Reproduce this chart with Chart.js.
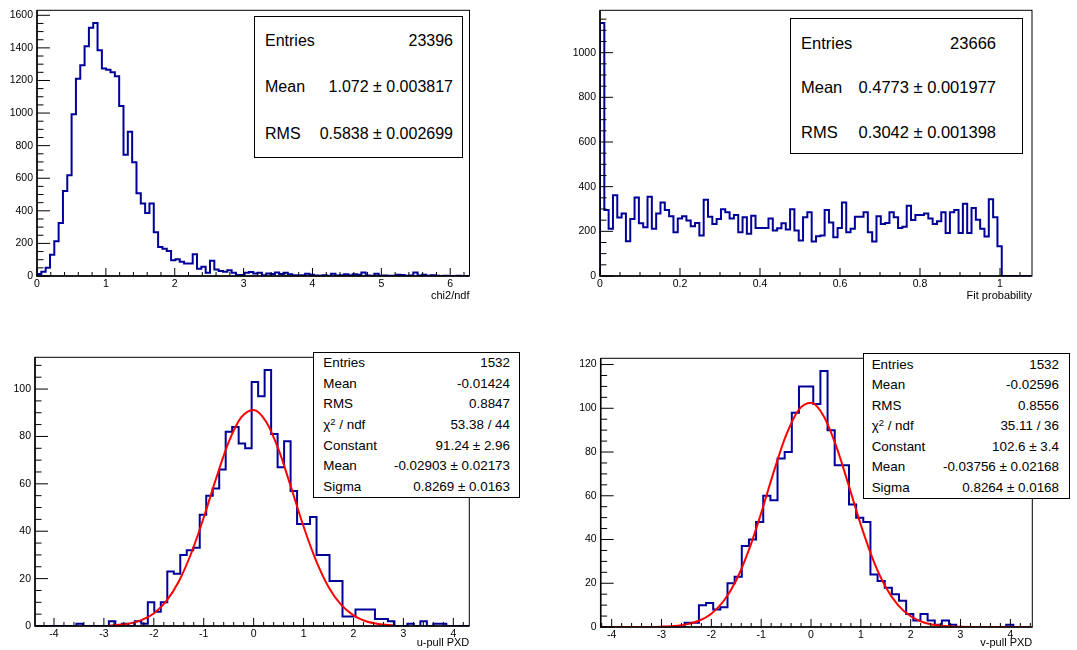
<!DOCTYPE html>
<html>
<head>
<meta charset="UTF-8">
<title>Track fit quality</title>
<script src="https://cdn.jsdelivr.net/npm/chart.js"></script>
<style>
  body { margin: 0; background: #fff; font-family: "Liberation Sans", Arial, sans-serif; }
  #page { position: relative; width: 1077px; height: 650px; overflow: hidden; }
  #page canvas { position: absolute; }
  .stats { position: absolute; box-sizing: border-box; border: 1px solid #000; background: #fff; color: #000; }
  .stats div { display: flex; justify-content: space-between; white-space: nowrap; }
  .stats sup { font-size: 70%; line-height: 0; vertical-align: 0.45em; }
</style>
</head>
<body>
<div id="page">
  <canvas id="c1" width="538" height="325" style="left:0;top:0"></canvas>
  <canvas id="c2" width="539" height="325" style="left:538px;top:0"></canvas>
  <canvas id="c3" width="538" height="325" style="left:0;top:325px"></canvas>
  <canvas id="c4" width="539" height="325" style="left:538px;top:325px"></canvas>
</div>
<script>
// ---- data ----
// chi2/ndf : 100 bins on [0, 6.28]
const chi2Range = [0, 6.28];
const chi2Counts = [
  12, 26, 50, 130, 214, 325, 522, 619, 993, 1210,
  1294, 1410, 1523, 1553, 1385, 1274, 1266, 1250, 1226, 1044,
  744, 886, 698, 508, 445, 386, 445, 269, 178, 168,
  154, 97, 103, 87, 77, 77, 134, 45, 57, 20,
  93, 40, 30, 26, 36, 20, 6, 6, 20,
  25, 15, 20, 5, 15, 12, 22, 12, 20, 10,
  5, 3, 5, 14, 8, 3, 2, 4, 2, 14,
  3, 5, 10, 4, 10, 8, 22, 3, 2, 14,
  2, 3, 1, 2, 8, 6, 2, 3, 22, 3,
  8, 2, 5, 1, 0, 2, 0, 0, 1, 0, 0
];
const chi2XTicks = [0, 1, 2, 3, 4, 5, 6];
const chi2YTicks = [0, 200, 400, 600, 800, 1000, 1200, 1400, 1600];

// Fit probability : 100 bins on [0, 1.08]
const probRange = [0, 1.08];
const probCounts = [
  1133,
  295, 211, 361, 262, 280, 156, 255, 351, 236, 218,
  355, 211, 280, 329, 295, 267, 196, 258, 267, 248,
  223, 237, 181, 341, 265, 233, 255, 299, 285, 258,
  273, 196,
  263, 189, 270, 215, 215, 215, 258, 204, 214, 236,
  208, 299, 204, 159, 263, 285, 155, 178, 181, 296,
  240, 174, 215, 329, 196, 211, 265, 265, 285, 196,
  155, 267, 233, 237, 285, 263, 215, 221, 314, 251,
  273, 273, 280, 258, 233, 245, 285, 192, 285, 295,
  192, 324, 192, 304, 252, 211, 177, 344, 263, 133,
  0, 0, 0, 0, 0, 0, 0
];
const probXTicks = [0, 0.2, 0.4, 0.6, 0.8, 1];
const probYTicks = [0, 200, 400, 600, 800, 1000];

// u-pull PXD : bins of 0.13 starting at -4.46, axis [-4.38, 4.32]
const uPullAxis = [-4.38, 4.32];
const uPullBins = { low: -4.46, width: 0.13 };
const uPullCounts = [
  0, 0, 0, 0, 0, 0, 0, 1, 0, 0, 0, 0, 2, 0, 1, 0, 2, 1,
  10, 6, 10, 23, 22, 30, 32, 33, 47, 55, 58, 66, 82, 84, 77, 75,
  103, 97, 108, 81, 67, 78, 57, 43, 43, 46, 30, 30, 19, 19, 4, 4,
  7, 7, 7, 3, 3, 2, 0, 0, 1, 0, 2, 0, 1, 1,
  0, 0, 0, 0
];
const uFitX = [-2.9, -2.75, -2.5, -2.25, -2, -1.75, -1.5, -1.25, -1, -0.75, -0.5, -0.25, 0,
               0.25, 0.5, 0.75, 1, 1.25, 1.5, 1.75, 2, 2.25, 2.5, 2.8];
const uFitY = [0.2, 0.4, 1.0, 2.5, 5.3, 10.5, 18.8, 30.7, 45.8, 62.4, 77.6, 88.0, 91.2,
               86.2, 74.4, 58.5, 42.0, 27.6, 16.5, 9.0, 4.5, 2.0, 0.85, 0.26];
const uPullYTicks = [0, 20, 40, 60, 80, 100];

// v-pull PXD : bins of 0.1434 starting at -4.257, axis [-4.22, 4.44]
const vPullAxis = [-4.22, 4.44];
const vPullBins = { low: -4.257, width: 0.1434 };
const vPullCounts = [
  0, 0, 0, 0, 0, 0, 0, 0, 0, 0, 0, 0, 2, 2,
  10, 11, 8, 9, 20, 23, 37, 40, 48, 60, 58, 77, 80, 98,
  110, 110, 102, 117, 90, 74, 74, 56, 50, 48, 24, 21, 18, 15, 12, 6,
  3, 6, 3, 1, 3, 1,
  0, 0, 0, 0, 0, 0, 0, 1, 0, 0, 0
];
const vFitX = [-4.22, -3.5, -3, -2.75, -2.5, -2.25, -2, -1.75, -1.5, -1.25, -1, -0.75, -0.5, -0.25, 0,
               0.25, 0.5, 0.75, 1, 1.25, 1.5, 1.75, 2, 2.25, 2.5, 2.75, 3, 3.5, 4.44];
const vFitY = [0, 0.01, 0.17, 0.45, 1.2, 2.85, 6.1, 12.0, 21.4, 35.0, 52.1, 70.8, 87.7, 99.2, 102.5,
               96.6, 83.0, 65.2, 46.7, 30.5, 18.2, 9.9, 4.9, 2.2, 0.9, 0.33, 0.12, 0.01, 0];
const pullXTicks = [-4, -3, -2, -1, 0, 1, 2, 3, 4];
const vPullYTicks = [0, 20, 40, 60, 80, 100, 120];

// stat boxes
const chi2Stats = [['Entries', '23396'], ['Mean', '1.072 ± 0.003817'], ['RMS', '0.5838 ± 0.002699']];
const probStats = [['Entries', '23666'], ['Mean', '0.4773 ± 0.001977'], ['RMS', '0.3042 ± 0.001398']];
const uPullStats = [['Entries', '1532'], ['Mean', '-0.01424'], ['RMS', '0.8847'],
  ['χ<sup>2</sup> / ndf', '53.38 / 44'], ['Constant', '91.24 ± 2.96'],
  ['Mean', '-0.02903 ± 0.02173'], ['Sigma', '0.8269 ± 0.0163']];
const vPullStats = [['Entries', '1532'], ['Mean', '-0.02596'], ['RMS', '0.8556'],
  ['χ<sup>2</sup> / ndf', '35.11 / 36'], ['Constant', '102.6 ± 3.4'],
  ['Mean', '-0.03756 ± 0.02168'], ['Sigma', '0.8264 ± 0.0168']];

// ---- drawing ----
Chart.defaults.font.family = '"Liberation Sans", Arial, sans-serif';
Chart.defaults.color = '#000';
Chart.defaults.animation = false;

const HIST_BLUE = '#000099';

function histPoints(low, width, counts) {
  const n = counts.length;
  const pts = [{ x: low, y: 0 }];
  counts.forEach((c, i) => pts.push({ x: low + i * width, y: c }));
  pts.push({ x: low + n * width, y: counts[n - 1] });
  pts.push({ x: low + n * width, y: 0 });
  return pts;
}

// ROOT style frame with ticks pointing inwards
const rootAxes = {
  id: 'rootAxes',
  beforeDatasetsDraw(chart) {
    const { ctx, chartArea: a } = chart;
    ctx.save();
    ctx.strokeStyle = '#000';
    ctx.lineWidth = 1;
    ctx.strokeRect(a.left, a.top, a.right - a.left, a.bottom - a.top);
    ctx.restore();
  },
  afterDatasetsDraw(chart, args, o) {
    const { ctx, chartArea: a, scales: { x, y } } = chart;
    const w = a.right - a.left, h = a.bottom - a.top;
    const each = (min, max, minor, major, fn) => {
      for (let k = Math.ceil(min / minor - 1e-6); k * minor <= max + 1e-6; k++) {
        const v = k * minor;
        fn(v, Math.abs(v / major - Math.round(v / major)) < 1e-6);
      }
    };
    ctx.save();
    ctx.strokeStyle = '#000';
    ctx.lineWidth = 1;
    ctx.beginPath();
    each(x.min, x.max, o.xMinor, o.xMajor, (v, m) => {
      const px = x.getPixelForValue(v);
      ctx.moveTo(px, a.bottom);
      ctx.lineTo(px, a.bottom - (m ? 0.03 : 0.015) * h);
    });
    each(y.min, y.max, o.yMinor, o.yMajor, (v, m) => {
      const py = y.getPixelForValue(v);
      ctx.moveTo(a.left, py);
      ctx.lineTo(a.left + (m ? 0.03 : 0.015) * w, py);
    });
    ctx.stroke();
    ctx.lineWidth = 1.5;
    ctx.beginPath();
    ctx.moveTo(a.left, a.top);
    ctx.lineTo(a.left, a.bottom);
    ctx.lineTo(a.right, a.bottom);
    ctx.stroke();
    ctx.restore();
  }
};

function drawPad(p) {
  const [L, T, R, B] = p.frame;
  const datasets = [];
  if (p.fitX) {
    datasets.push({
      data: p.fitX.map((v, i) => ({ x: v, y: p.fitY[i] })),
      borderColor: '#ff0000', borderWidth: 2, pointRadius: 0,
      cubicInterpolationMode: 'monotone', tension: 0.4
    });
  }
  datasets.push({
    data: histPoints(p.low, p.width, p.counts),
    borderColor: HIST_BLUE, borderWidth: 2, pointRadius: 0,
    stepped: true, borderJoinStyle: 'miter', borderCapStyle: 'butt'
  });
  const yMax = 1.05 * Math.max(...p.counts);
  new Chart(document.getElementById(p.id), {
    type: 'line',
    data: { datasets },
    options: {
      responsive: false,
      animation: false,
      events: [],
      layout: { padding: { left: 0, top: T - p.top, right: p.left + p.w - R, bottom: 0 } },
      plugins: {
        legend: { display: false },
        tooltip: { enabled: false },
        rootAxes: p.ticks
      },
      scales: {
        x: {
          type: 'linear', min: p.xRange[0], max: p.xRange[1],
          grid: { display: false, drawTicks: false },
          border: { display: false },
          afterFit: s => { s.height = p.top + p.h - B; },
          afterBuildTicks: s => { s.ticks = p.xTicks.map(v => ({ value: v })); },
          ticks: { padding: 2, maxRotation: 0, autoSkip: false, font: { size: 10.5 }, callback: v => String(v) },
          title: { display: true, text: p.xTitle, align: 'end', font: { size: 11 }, padding: { top: 0, bottom: p.titlePad } }
        },
        y: {
          type: 'linear', min: 0, max: yMax,
          grid: { display: false, drawTicks: false },
          border: { display: false },
          afterFit: s => { s.width = L - p.left; },
          afterBuildTicks: s => { s.ticks = p.yTicks.map(v => ({ value: v })); },
          ticks: { padding: 4, autoSkip: false, font: { size: 10.5 }, callback: v => String(v) }
        }
      }
    },
    plugins: [rootAxes]
  });
}

function addStats(b) {
  const el = document.createElement('div');
  el.className = 'stats';
  Object.assign(el.style, {
    left: b.left + 'px', top: b.top + 'px', width: b.width + 'px', height: b.height + 'px',
    fontSize: b.font + 'px', padding: `${b.padTop}px ${b.padR}px 0 ${b.padL}px`
  });
  b.rows.forEach(([k, v]) => {
    const r = document.createElement('div');
    r.style.height = r.style.lineHeight = b.rowH + 'px';
    r.innerHTML = `<span>${k}</span><span>${v}</span>`;
    el.appendChild(r);
  });
  document.getElementById('page').appendChild(el);
}

const chi2W = (chi2Range[1] - chi2Range[0]) / chi2Counts.length;
const probW = (probRange[1] - probRange[0]) / probCounts.length;

drawPad({ id: 'c1', left: 0, top: 0, w: 538, h: 325, frame: [37, 7.3, 469.5, 276],
  low: chi2Range[0], width: chi2W, counts: chi2Counts, xRange: chi2Range,
  xTicks: chi2XTicks, yTicks: chi2YTicks, xTitle: 'chi2/ndf', titlePad: 22,
  ticks: { xMajor: 1, xMinor: 0.2, yMajor: 200, yMinor: 50 } });
drawPad({ id: 'c2', left: 538, top: 0, w: 539, h: 325, frame: [600, 7.3, 1032, 276],
  low: probRange[0], width: probW, counts: probCounts, xRange: probRange,
  xTicks: probXTicks, yTicks: probYTicks, xTitle: 'Fit probability', titlePad: 22,
  ticks: { xMajor: 0.2, xMinor: 0.05, yMajor: 200, yMinor: 50 } });
drawPad({ id: 'c3', left: 0, top: 325, w: 538, h: 325, frame: [35, 357.3, 469.3, 626],
  low: uPullBins.low, width: uPullBins.width, counts: uPullCounts, xRange: uPullAxis,
  fitX: uFitX, fitY: uFitY,
  xTicks: pullXTicks, yTicks: uPullYTicks, xTitle: 'u-pull PXD', titlePad: 0,
  ticks: { xMajor: 1, xMinor: 0.2, yMajor: 20, yMinor: 5 } });
drawPad({ id: 'c4', left: 538, top: 325, w: 539, h: 325, frame: [600.7, 358.3, 1032.3, 627],
  low: vPullBins.low, width: vPullBins.width, counts: vPullCounts, xRange: vPullAxis,
  fitX: vFitX, fitY: vFitY,
  xTicks: pullXTicks, yTicks: vPullYTicks, xTitle: 'v-pull PXD', titlePad: 0,
  ticks: { xMajor: 1, xMinor: 0.2, yMajor: 20, yMinor: 5 } });

addStats({ left: 254, top: 16, width: 209, height: 142, font: 16, rowH: 46.5, padTop: 0.75, padL: 10, padR: 9, rows: chi2Stats });
addStats({ left: 790, top: 18, width: 233, height: 136, font: 16.5, rowH: 44.5, padTop: 1.75, padL: 10, padR: 26, rows: probStats });
addStats({ left: 313.3, top: 352.3, width: 206.7, height: 146, font: 13.4, rowH: 20.6, padTop: 0, padL: 9, padR: 9, rows: uPullStats });
addStats({ left: 862.7, top: 353.3, width: 207.3, height: 145.4, font: 13.4, rowH: 20.55, padTop: 0.4, padL: 8, padR: 10, rows: vPullStats });
</script>
</body>
</html>
